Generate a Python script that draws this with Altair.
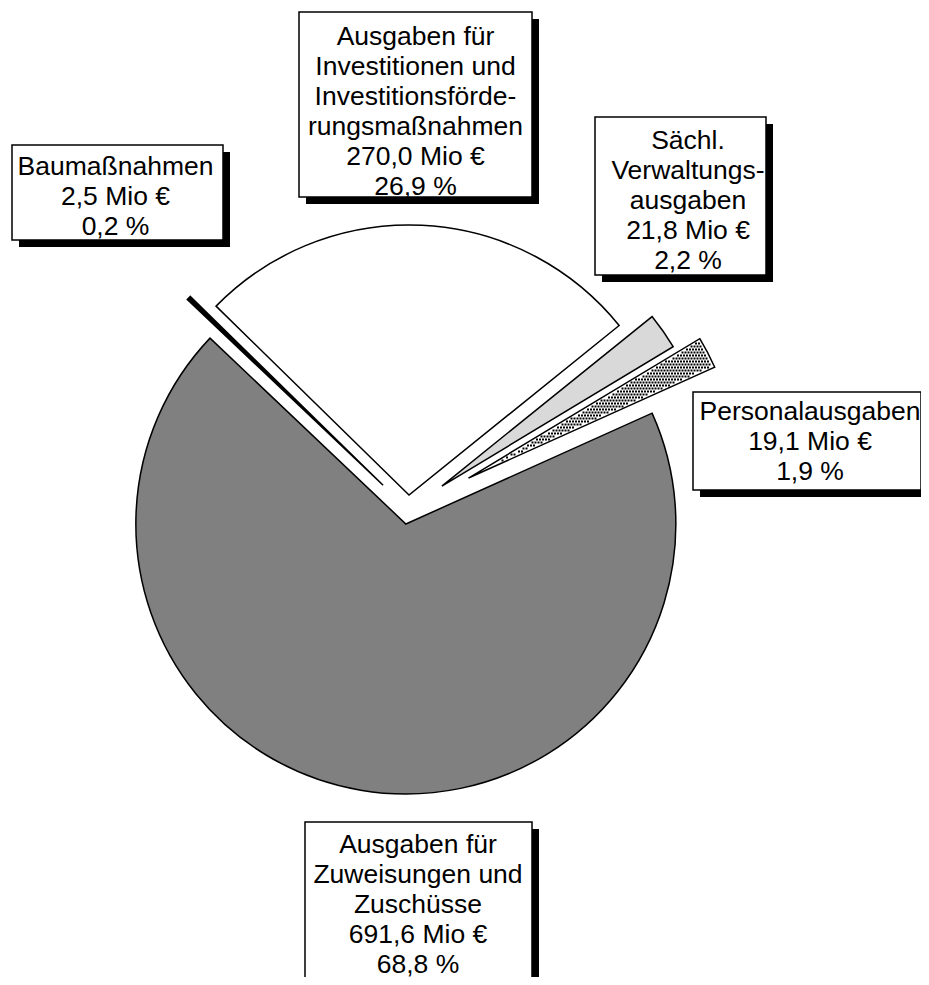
import altair as alt
import pandas as pd

# ---------------- data ----------------
categories = ["Baumaßnahmen", "Investitionen", "Sächl. Verwaltungsausgaben",
              "Personalausgaben", "Zuweisungen und Zuschüsse"]
values = [2.5, 270.0, 21.8, 19.1, 691.6]
amounts = ["2,5 Mio €", "270,0 Mio €", "21,8 Mio €", "19,1 Mio €", "691,6 Mio €"]
shares = ["0,2 %", "26,9 %", "2,2 %", "1,9 %", "68,8 %"]
title_lines = [
    ["Baumaßnahmen"],
    ["Ausgaben für", "Investitionen und", "Investitionsförde-", "rungsmaßnahmen"],
    ["Sächl.", "Verwaltungs-", "ausgaben"],
    ["Personalausgaben"],
    ["Ausgaben für", "Zuweisungen und", "Zuschüsse"],
]

# ---------------- style / layout ----------------
fills = ["#000000", "#ffffff", "#d9d9d9", "#ffffff", "#808080"]
explode = [35, 14.6, 41, 68, 14.6]
START_DEG = -46.5
RADIUS = 270
M = 8                       # page margin
CX, CY = 408.3 - M, 509.6 - M
NB = "\u00a0"

# label boxes in page coordinates: x, y, x2, y2 ; text anchor: center x, first baseline
box_pos = [(12, 145, 223, 240), (299, 12, 532, 197), (595, 117, 766, 275),
           (693, 392, 921, 490), (305, 822, 532, 983)]
text_pos = [(115.5, 174.5), (415.5, 45), (688, 149), (810, 420), (418, 852.5)]
# small leading / trailing spaces as in the original labels
amount_pad = ["", NB * 2, NB, "", NB * 2]
share_pad = ["", NB, NB * 5, "", ""]
title_pad = [[""], ["", "", "", ""], [NB, "", ""], [""], ["", "", ""]]
title_tail = [[""], ["", "", "", ""], ["", NB, ""], [""], ["", "", ""]]
SHADOW = 7

# ---------------- pie ----------------
pie_df = pd.DataFrame({
    "cat": categories, "value": values, "order": list(range(len(values))),
    "fill": fills, "explode": explode,
})

start = f"({START_DEG} * PI / 180)"
base = (
    alt.Chart(pie_df)
    .transform_window(cum="sum(value)", sort=[alt.SortField("order")], frame=[None, 0])
    .transform_joinaggregate(total="sum(value)")
    .transform_calculate(a0=f"{start} + 2 * PI * (datum.cum - datum.value) / datum.total")
    .transform_calculate(a1=f"{start} + 2 * PI * datum.cum / datum.total")
    .transform_calculate(mid="(datum.a0 + datum.a1) / 2")
    .transform_calculate(cx=f"{CX} + datum.explode * sin(datum.mid)")
    .transform_calculate(cy=f"{CY} - datum.explode * cos(datum.mid)")
)

arcs = base.mark_arc(stroke="black", strokeWidth=1.5, radius=RADIUS).encode(
    theta=alt.Theta("a0:Q", scale=None),
    theta2="a1:Q",
    x=alt.X("cx:Q", scale=None, axis=None),
    y=alt.Y("cy:Q", scale=None, axis=None),
    fill=alt.Fill("fill:N", scale=None),
)

# dotted texture for the "Personalausgaben" slice
NX, NY, STEP = 88, 52, 3
dots = (
    base.transform_filter(alt.datum.cat == "Personalausgaben")
    .transform_calculate(idx=f"sequence(0, {NX * NY})")
    .transform_flatten(["idx"])
    .transform_calculate(iy=f"floor(datum.idx / {NX})")
    .transform_calculate(px=f"round(datum.cx) + 0.5 + (datum.idx % {NX}) * {STEP} + (datum.iy % 2) * {STEP / 2}")
    .transform_calculate(py=f"round(datum.cy) + 0.5 - datum.iy * {STEP}")
    .transform_calculate(rr="sqrt(pow(datum.px - datum.cx, 2) + pow(datum.py - datum.cy, 2))")
    .transform_calculate(ang="atan2(datum.px - datum.cx, datum.cy - datum.py)")
    .transform_filter(
        f"datum.rr < {RADIUS - 2.5} && datum.rr > 4 && "
        "datum.rr * sin(datum.ang - datum.a0) > 2 && datum.rr * sin(datum.a1 - datum.ang) > 2"
    )
    .mark_square(size=4, color="black", opacity=1)
    .encode(
        x=alt.X("px:Q", scale=None, axis=None),
        y=alt.Y("py:Q", scale=None, axis=None),
    )
)

# ---------------- labels ----------------
labels = []
for i in range(len(categories)):
    lines = [title_pad[i][j] + t + title_tail[i][j] for j, t in enumerate(title_lines[i])]
    lines.append(amount_pad[i] + amounts[i])
    lines.append(shares[i] + share_pad[i])
    labels.append("\n".join(lines))

box_df = pd.DataFrame({
    "x": [b[0] - M for b in box_pos],
    "y": [b[1] - M for b in box_pos],
    "x2": [b[2] - M for b in box_pos],
    "y2": [b[3] - M for b in box_pos],
    "tx": [t[0] - M for t in text_pos],
    "ty": [t[1] - M for t in text_pos],
    "label": labels,
})

lab = alt.Chart(box_df)
shadow = (
    lab.transform_calculate(sx=f"datum.x + {SHADOW}", sy=f"datum.y + {SHADOW}",
                            sx2=f"datum.x2 + {SHADOW}", sy2=f"datum.y2 + {SHADOW}")
    .mark_rect(color="black")
    .encode(
        x=alt.X("sx:Q", scale=None, axis=None), x2="sx2:Q",
        y=alt.Y("sy:Q", scale=None, axis=None), y2="sy2:Q",
    )
)
boxes = lab.mark_rect(fill="white", stroke="black", strokeWidth=1.5).encode(
    x=alt.X("x:Q", scale=None, axis=None), x2="x2:Q",
    y=alt.Y("y:Q", scale=None, axis=None), y2="y2:Q",
)
texts = lab.mark_text(
    align="center", baseline="alphabetic", lineBreak="\n", lineHeight=30,
    font="Liberation Sans", fontSize=26.5, color="black",
).encode(
    x=alt.X("tx:Q", scale=None, axis=None),
    y=alt.Y("ty:Q", scale=None, axis=None),
    text="label:N",
)

chart = (
    alt.layer(arcs, dots, shadow, boxes, texts)
    .properties(width=913, height=969, padding=0,
                autosize=alt.AutoSizeParams(type="none"))
    .configure_view(strokeWidth=0)
)

chart.save("out.html", embed_options={"renderer": "svg", "actions": False})
